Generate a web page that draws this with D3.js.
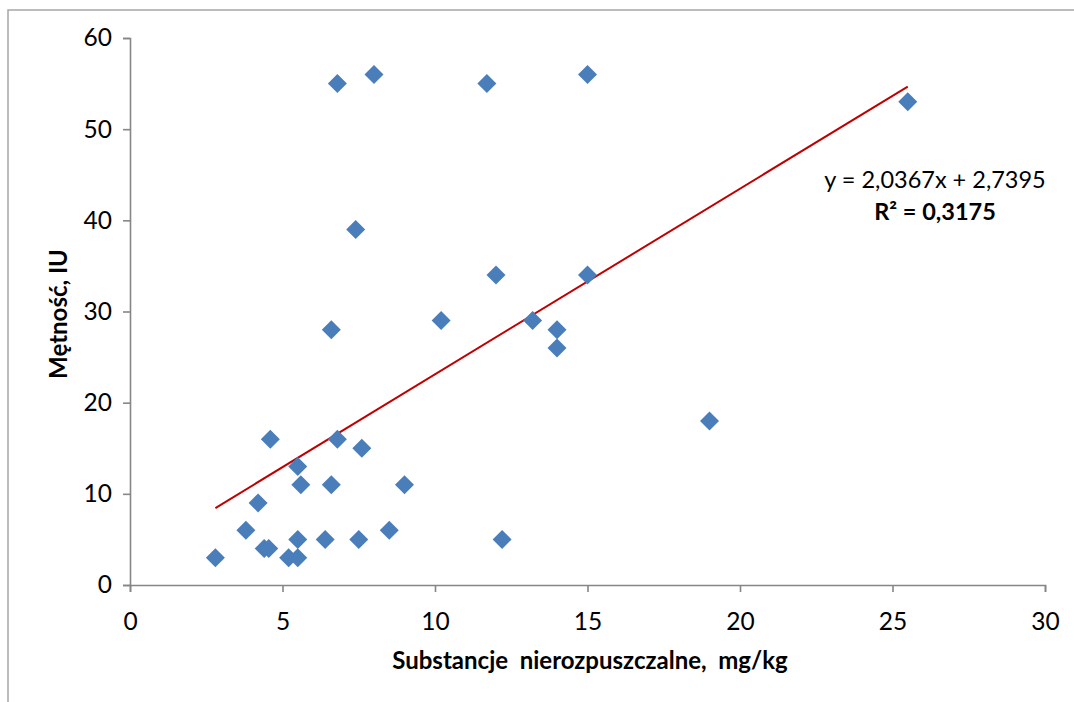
<!DOCTYPE html>
<html>
<head>
<meta charset="utf-8">
<script src="https://cdn.jsdelivr.net/npm/d3@7"></script>
<style>
  body { margin: 0; background: #fff; }
  text { font-family: Lato, "Open Sans", sans-serif; fill: #000; }
</style>
</head>
<body>
<svg id="chart" width="1074" height="702"></svg>
<script>
// data
const solids = [2.8, 3.8, 4.2, 4.6, 4.4, 4.55, 5.2, 5.5, 5.6, 5.5, 5.5, 6.4, 6.6, 6.6, 6.8, 6.8,
                7.4, 7.5, 7.6, 8.0, 8.5, 9.0, 10.2, 11.7, 12.0, 12.2, 13.2, 14.0, 14.0, 15.0, 15.0, 19.0, 25.5];
const turbidity = [3, 6, 9, 16, 4, 4, 3, 13, 11, 5, 3, 5, 11, 28, 16, 55,
                   39, 5, 15, 56, 6, 11, 29, 55, 34, 5, 29, 28, 26, 56, 34, 18, 53];
const xTicks = [0, 5, 10, 15, 20, 25, 30];
const yTicks = [0, 10, 20, 30, 40, 50, 60];
const slope = 2.0367, intercept = 2.7395, r2 = "0,3175";

const svg = d3.select("#chart");

// outer frame of the chart area
svg.append("rect")
        .attr("x", 8)
        .attr("y", 10)
        .attr("width", 1100)
        .attr("height", 720)
        .attr("fill", "none")
        .attr("stroke", "#a6a6a6")
        .attr("stroke-width", 1.5);

const x = d3.scaleLinear().domain([0, 30]).range([130, 1045]);
const y = d3.scaleLinear().domain([0, 60]).range([585, 38]);

const fmt = d => String(d);

const gx = svg.append("g")
        .attr("transform", "translate(0,585)")
        .call(d3.axisBottom(x).tickValues(xTicks).tickFormat(fmt).tickSize(7).tickPadding(21));

const gy = svg.append("g")
        .attr("transform", "translate(130,0)")
        .call(d3.axisLeft(y).tickValues(yTicks).tickFormat(fmt).tickSize(7).tickPadding(11));

[gx, gy].forEach(g => {
        g.selectAll("path, line").attr("stroke", "#868686").attr("stroke-width", 1.6);
        g.selectAll("text")
                .attr("font-family", "Lato, sans-serif")
                .attr("font-size", "24.5px")
                .attr("fill", "#000");
});
gx.selectAll("text").attr("dy", "0.71em");

// axis titles
svg.append("text")
        .attr("x", 590)
        .attr("y", 669)
        .attr("text-anchor", "middle")
        .attr("font-size", "24px")
        .attr("font-weight", "bold")
        .attr("xml:space", "preserve")
        .style("white-space", "pre")
        .text("Substancje  nierozpuszczalne,  mg/kg");

svg.append("text")
        .attr("transform", "translate(67,314) rotate(-90)")
        .attr("text-anchor", "middle")
        .attr("font-size", "24px")
        .attr("font-weight", "bold")
        .text("Mętność, IU");

// trend line
const xr = d3.extent(solids);
const trend = xr.map(v => [v, slope * v + intercept]);
svg.append("path")
        .datum(trend)
        .attr("d", d3.line().x(d => x(d[0])).y(d => y(d[1])))
        .attr("fill", "none")
        .attr("stroke", "#c00000")
        .attr("stroke-width", 2);

// points
const pts = solids.map((s, i) => ({ s: s, t: turbidity[i] }));
svg.append("g")
        .selectAll("path")
        .data(pts)
        .join("path")
        .attr("transform", d => "translate(" + x(d.s) + "," + y(d.t) + ")")
        .attr("d", "M0,-9.5L9.5,0L0,9.5L-9.5,0Z")
        .attr("fill", "#4a7ebb");

// equation label
svg.append("text")
        .attr("x", 935)
        .attr("y", 188)
        .attr("text-anchor", "middle")
        .attr("font-size", "23.5px")
        .text("y = " + String(slope).replace(".", ",") + "x + " + String(intercept).replace(".", ","));

svg.append("text")
        .attr("x", 935)
        .attr("y", 220)
        .attr("text-anchor", "middle")
        .attr("font-size", "23.5px")
        .attr("font-weight", "bold")
        .text("R² = " + r2);
</script>
</body>
</html>
